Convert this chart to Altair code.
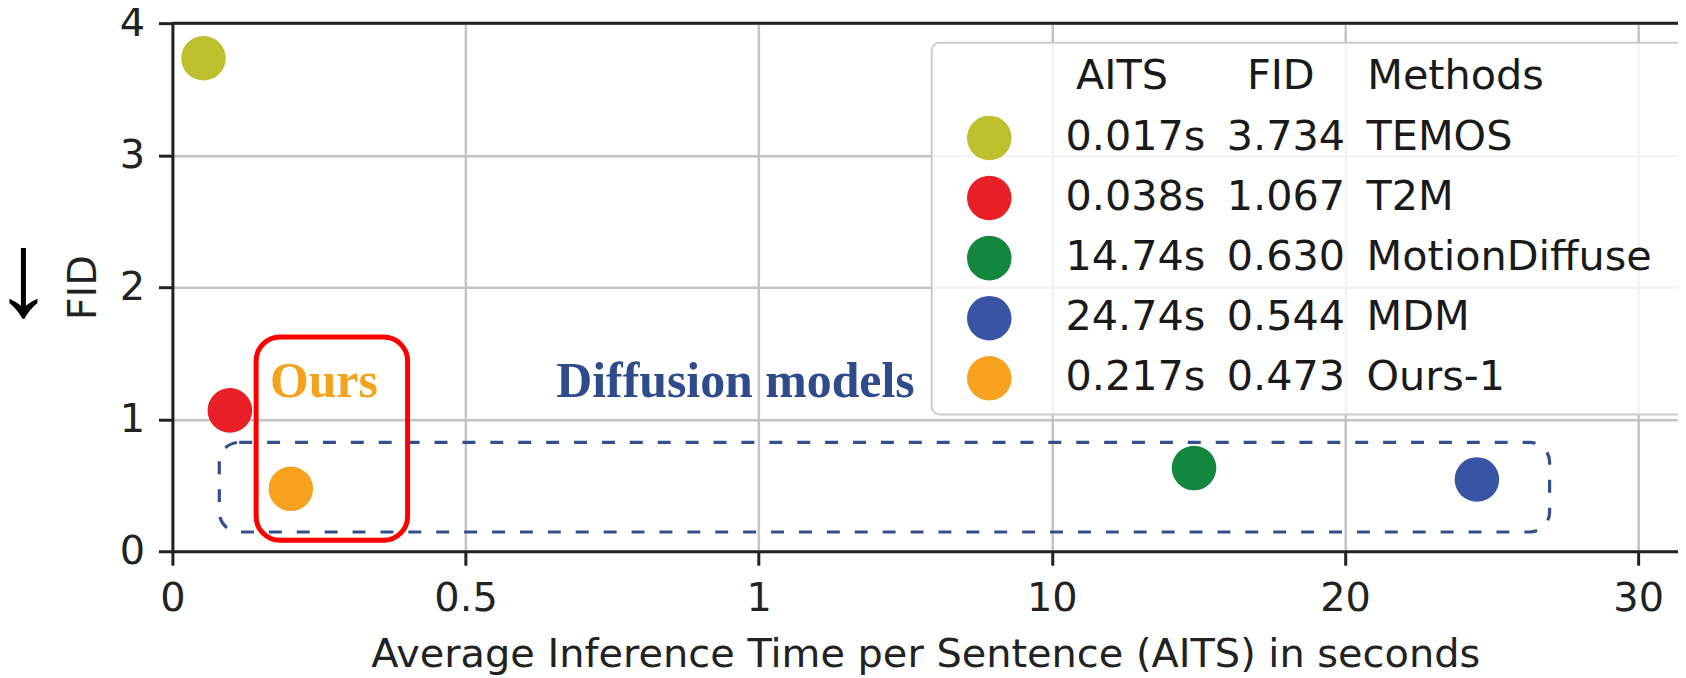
import altair as alt
import pandas as pd

# ---- data ----
methods = ["TEMOS", "T2M", "MotionDiffuse", "MDM", "Ours-1"]
aits_text = ["0.017s", "0.038s", "14.74s", "24.74s", "0.217s"]
fid = [3.734, 1.067, 0.630, 0.544, 0.473]
# plotted horizontal positions on the broken AITS axis
x_plot = [0.053, 0.098, 14.85, 24.5, 0.202]
colors = ["#bdbf2d", "#e91f27", "#13873d", "#3a54a4", "#f6a21e"]

x_ticks = [0, 0.5, 1, 10, 20, 30]
x_end = 31.36
y_ticks = [0, 1, 2, 3, 4]

# annotation boxes (data coords)
box_diff = {"x": [0.08], "x2": [26.98], "y": [0.825], "y2": [0.146]}
box_ours = {"x": [0.1428], "x2": [0.4011], "y": [1.623], "y2": [0.083]}
note_text = ["Ours", "Diffusion models"]
note_x = [0.2583, 0.9604]
note_y = [1.1675, 1.172]
note_color = ["#f5a21f", "#2e4b8b"]

# ---- layout ----
W, H = 1511, 530
seg = 294.2
x_range = [0, seg, 2 * seg, 3 * seg, 4 * seg, 5 * seg, W]
x_scale = alt.Scale(domain=x_ticks + [x_end], range=x_range, nice=False, zero=False)
y_scale = alt.Scale(domain=[0, 4], nice=False, zero=False)

FONT = "DejaVu Sans"
INK = "#222222"
NB = "\u00a0"
TH = "\u2009"
ZW = "\u200b"
SP = NB + TH
legend_labels = [f"{a}{SP}{f:.3f}{SP}{m}" for a, f, m in zip(aits_text, fid, methods)]
legend_title = (ZW + NB * 10 + "AITS" + NB * 6 + "FID"
                + NB * 4 + "Methods" + NB * 9 + TH + ZW)

df = pd.DataFrame({"x": x_plot, "fid": fid, "label": legend_labels})

x_axis = alt.Axis(values=x_ticks, format="~g",
                  title="Average Inference Time per Sentence (AITS) in seconds",
                  grid=True, gridColor="#c4c4c4", gridWidth=2.5,
                  domainColor=INK, domainWidth=3, tickColor=INK, tickWidth=3, tickSize=14,
                  labelFont=FONT, labelFontSize=40, labelColor=INK, labelPadding=13.3,
                  labelFlush=False, labelOverlap=False,
                  titleFont=FONT, titleFontSize=40, titleFontWeight="normal",
                  titleColor=INK, titlePadding=16.3)
y_axis = alt.Axis(values=y_ticks, format="d", title="FID",
                  grid=True, gridColor="#c4c4c4", gridWidth=2.5,
                  domainColor=INK, domainWidth=3, tickColor=INK, tickWidth=3, tickSize=14,
                  labelFont=FONT, labelFontSize=40, labelColor=INK, labelPadding=14,
                  labelFlush=False, labelOverlap=False,
                  titleFont=FONT, titleFontSize=40, titleFontWeight="normal",
                  titleColor=INK, titlePadding=15.5)


def X(field):
    return alt.X(field, scale=x_scale, axis=x_axis)


def Y(field):
    return alt.Y(field, scale=y_scale, axis=y_axis)


points = alt.Chart(df).mark_circle(size=2000, opacity=1).encode(
    x=X("x:Q"),
    y=Y("fid:Q"),
    color=alt.Color("label:N",
                    scale=alt.Scale(domain=legend_labels, range=colors),
                    legend=alt.Legend(title=legend_title, orient="none",
                                      legendX=762, legendY=19.7)),
)

diff_box = alt.Chart(pd.DataFrame(box_diff)).mark_rect(
    fillOpacity=0, stroke="#34508c", strokeWidth=3.2, strokeDash=[13, 15], cornerRadius=20
).encode(x=X("x:Q"), x2="x2:Q", y=Y("y:Q"), y2="y2:Q")

ours_box = alt.Chart(pd.DataFrame(box_ours)).mark_rect(
    fillOpacity=0, stroke="#ff0000", strokeWidth=5, cornerRadius=24
).encode(x=X("x:Q"), x2="x2:Q", y=Y("y:Q"), y2="y2:Q")

top_spine = alt.Chart(pd.DataFrame({"y": [4]})).mark_rule(color=INK, strokeWidth=3).encode(
    y=Y("y:Q")
)

notes = alt.Chart(pd.DataFrame({"t": note_text, "x": note_x, "y": note_y, "c": note_color})).mark_text(
    font="Liberation Serif", fontWeight="bold", fontSize=50, align="center", baseline="alphabetic"
).encode(
    x=X("x:Q"), y=Y("y:Q"),
    text="t:N",
    color=alt.Color("c:N", scale=None),
)

arrow = alt.Chart(pd.DataFrame({"t": ["\u2193"]})).mark_text(
    font="Liberation Serif", fontSize=120, color="black", align="center", baseline="middle"
).encode(x=alt.value(-149.3), y=alt.value(256.5), text="t:N")

chart = alt.layer(diff_box, ours_box, top_spine, points, notes, arrow).properties(
    width=W, height=H,
    autosize=alt.AutoSizeParams(type="none"),
    padding={"left": 165, "top": 14, "right": 0, "bottom": 126},
).configure_view(strokeWidth=0).configure_legend(
    padding=13, fillColor="rgba(255,255,255,0.8)", strokeColor="#cccccc", strokeWidth=2,
    cornerRadius=8, symbolSize=2000, symbolType="circle", symbolStrokeWidth=0, symbolOpacity=1,
    symbolOffset=22.3, labelOffset=54, rowPadding=15.3,
    labelFont=FONT, labelFontSize=41.5, labelColor="#1a1a1a", labelLimit=2000, labelBaseline="middle",
    titleFont=FONT, titleFontSize=41.5, titleFontWeight="normal", titleColor="#1a1a1a",
    titleLimit=2000, titlePadding=18.5,
)

chart.save("out.html", embed_options={"renderer": "svg", "actions": False})
